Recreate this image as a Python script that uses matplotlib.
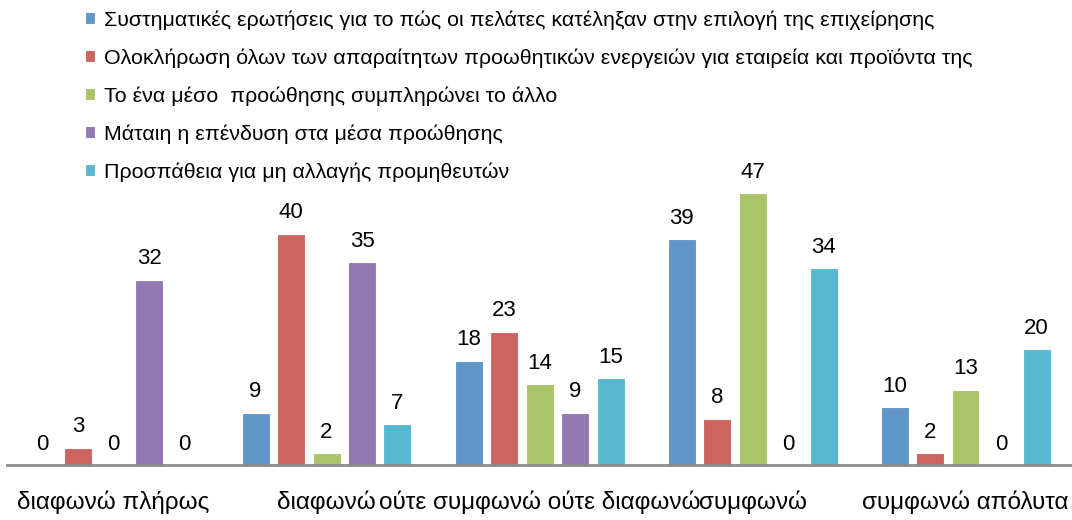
import matplotlib
matplotlib.use("Agg")
import matplotlib.pyplot as plt
import numpy as np

plt.rcParams['font.family'] = ['Liberation Sans', 'DejaVu Sans']

categories = ["διαφωνώ πλήρως", "διαφωνώ", "ούτε συμφωνώ ούτε διαφωνώ",
              "συμφωνώ", "συμφωνώ απόλυτα"]
series_names = [
    "Συστηματικές ερωτήσεις για το πώς οι πελάτες κατέληξαν στην επιλογή της επιχείρησης",
    "Ολοκλήρωση όλων των απαραίτητων προωθητικών ενεργειών για εταιρεία και προϊόντα της",
    "Το ένα μέσο  προώθησης συμπληρώνει το άλλο",
    "Μάταιη η επένδυση στα μέσα προώθησης",
    "Προσπάθεια για μη αλλαγής προμηθευτών",
]
systematic_questions = [0, 9, 18, 39, 10]
all_promotions = [3, 40, 23, 8, 2]
complementary_media = [0, 2, 14, 47, 13]
futile_investment = [32, 35, 9, 0, 0]
supplier_retention = [0, 7, 15, 34, 20]
series_values = [systematic_questions, all_promotions, complementary_media,
                 futile_investment, supplier_retention]
colors = ["#6096C8", "#CC6560", "#AAC46A", "#9379B1", "#56B9D0"]

W, H = 1072, 520
fig = plt.figure(figsize=(W / 100, H / 100), dpi=100)
base_px = 465
ymax = 50
px_per_unit = 272 / 47
ax_h = ymax * px_per_unit
ax = fig.add_axes([7 / W, (H - base_px) / H, 1065 / W, ax_h / H])

x = np.arange(len(categories))
step = 35.5 / 213
width = 28 / 213
handles = []
for i, (vals, c, name) in enumerate(zip(series_values, colors, series_names)):
    pos = x + (i - 2) * step
    bars = ax.bar(pos, vals, width, color=c, edgecolor="white", linewidth=0.8,
                  label=name, zorder=2)
    handles.append(bars)
    for p, v in zip(pos, vals):
        ax.text(p, v + 1.8, str(v), ha="center", va="bottom",
                fontsize=16, color="black", clip_on=False)

ax.set_xlim(-0.5, 4.5)
ax.set_ylim(0, ymax)
ax.set_yticks([])
ax.set_xticks(x)
ax.set_xticklabels(categories, fontsize=17.5)
ax.tick_params(axis="x", length=0, pad=18)
for s in ["top", "right", "left"]:
    ax.spines[s].set_visible(False)
ax.spines["bottom"].set_color("#8C8C8C")
ax.spines["bottom"].set_linewidth(2)
ax.spines["bottom"].set_zorder(3)
ax.patch.set_visible(False)

fig.legend(handles=handles, loc="upper left", bbox_to_anchor=(85 / W, 1 - 10 / H),
           frameon=False, fontsize=15.4, handlelength=0.47, handleheight=0.47,
           handletextpad=0.4, labelspacing=0.87, borderaxespad=0, borderpad=0)

fig.savefig("out.png", dpi=100)
